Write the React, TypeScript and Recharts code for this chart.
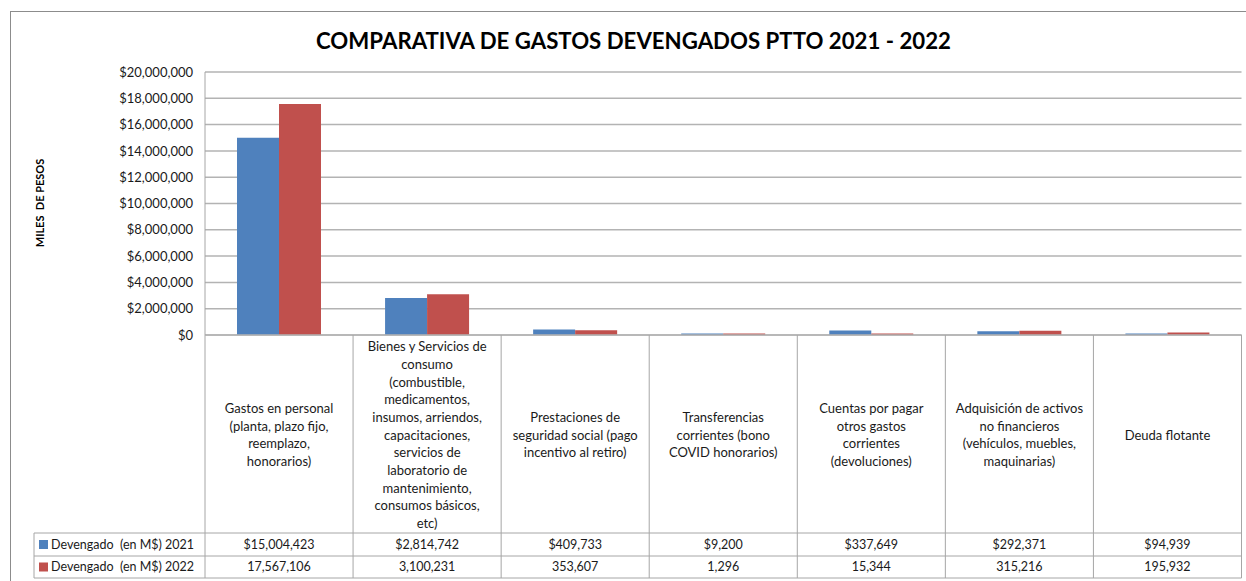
import { BarChart, Bar, XAxis, YAxis, CartesianGrid, Customized } from 'recharts'

const categories = [
  'Gastos en personal\n(planta, plazo fijo,\nreemplazo,\nhonorarios)',
  'Bienes y Servicios de\nconsumo\n(combustible,\nmedicamentos,\ninsumos, arriendos,\ncapacitaciones,\nservicios de\nlaboratorio de\nmantenimiento,\nconsumos básicos,\netc)',
  'Prestaciones de\nseguridad social (pago\nincentivo al retiro)',
  'Transferencias\ncorrientes (bono\nCOVID honorarios)',
  'Cuentas por pagar\notros gastos\ncorrientes\n(devoluciones)',
  'Adquisición de activos\nno financieros\n(vehículos, muebles,\nmaquinarias)',
  'Deuda flotante',
]
const devengado2021 = [15004423, 2814742, 409733, 9200, 337649, 292371, 94939]
const devengado2022 = [17567106, 3100231, 353607, 1296, 15344, 315216, 195932]
const yTicks = [0, 2000000, 4000000, 6000000, 8000000, 10000000, 12000000, 14000000, 16000000, 18000000, 20000000]
const seriesNames = ['Devengado  (en M$) 2021', 'Devengado  (en M$) 2022']
const title = 'COMPARATIVA DE GASTOS DEVENGADOS PTTO 2021 - 2022'
const yLabel = 'MILES  DE PESOS'

const data = categories.map((name, i) => ({ name, y2021: devengado2021[i], y2022: devengado2022[i] }))

const FONT = 'Lato, "Open Sans", sans-serif'
const BLUE = '#4F81BD'
const RED = '#C0504D'
const GRID = '#b3b3b3'
const LINE = '#a6a6a6'
const TEXT = '#1a1a1a'

const PLOT_LEFT = 205
const PLOT_RIGHT = 1241.5
const PLOT_TOP = 72
const PLOT_BOTTOM = 335
const HEADER_BOTTOM = 533
const ROW1_BOTTOM = 556
const ROW2_BOTTOM = 578
const LEGEND_LEFT = 34
const CELL = (PLOT_RIGHT - PLOT_LEFT) / categories.length

const fmt = (v: number) => v.toLocaleString('en-US')

function CategoryTick(props: any) {
  const { x, payload } = props
  const i = payload.index
  const lines = String(payload.value).split('\n')
  const lh = 17.66
  const cy = (PLOT_BOTTOM + HEADER_BOTTOM) / 2 + 1
  const startY = cy - ((lines.length - 1) * lh) / 2
  return (
    <g>
      <line x1={x + CELL / 2} x2={x + CELL / 2} y1={PLOT_BOTTOM} y2={ROW2_BOTTOM} stroke={LINE} strokeWidth={1} />
      <text textAnchor="middle" fontFamily={FONT} fontSize={13} fill={TEXT}>
        {lines.map((l, k) => (
          <tspan key={k} x={x} y={startY + k * lh} dy="0.35em">
            {l}
          </tspan>
        ))}
      </text>
      <text x={x} y={(HEADER_BOTTOM + ROW1_BOTTOM) / 2} dy="0.35em" textAnchor="middle" fontFamily={FONT} fontSize={12.5} fill={TEXT}>
        {'$' + fmt(devengado2021[i])}
      </text>
      <text x={x} y={(ROW1_BOTTOM + ROW2_BOTTOM) / 2} dy="0.35em" textAnchor="middle" fontFamily={FONT} fontSize={12.5} fill={TEXT}>
        {fmt(devengado2022[i])}
      </text>
    </g>
  )
}

function Frame() {
  const rows = [
    { y0: HEADER_BOTTOM, y1: ROW1_BOTTOM, color: BLUE, name: seriesNames[0] },
    { y0: ROW1_BOTTOM, y1: ROW2_BOTTOM, color: RED, name: seriesNames[1] },
  ]
  return (
    <g>
      <rect x={10.5} y={11.5} width={1400} height={800} fill="none" stroke="#8c8c8c" strokeWidth={1} />
      <text x={633.5} y={49} textAnchor="middle" fontFamily={FONT} fontWeight={700} fontSize={22} fill="#000" textLength={635} lengthAdjust="spacingAndGlyphs">
        {title}
      </text>
      <text x={40} y={203} transform="rotate(-90 40 203)" dy="0.35em" textAnchor="middle" fontFamily={FONT} fontWeight={700} fontSize={11} fill="#000" style={{ whiteSpace: 'pre' }}>
        {yLabel}
      </text>
      <line x1={PLOT_LEFT} x2={PLOT_LEFT} y1={PLOT_BOTTOM} y2={ROW2_BOTTOM} stroke={LINE} />
      <line x1={LEGEND_LEFT} x2={LEGEND_LEFT} y1={HEADER_BOTTOM} y2={ROW2_BOTTOM} stroke={LINE} />
      {[HEADER_BOTTOM, ROW1_BOTTOM, ROW2_BOTTOM].map((y) => (
        <line key={y} x1={LEGEND_LEFT} x2={PLOT_RIGHT} y1={y} y2={y} stroke={LINE} />
      ))}
      {rows.map((r) => (
        <g key={r.name}>
          <rect x={39} y={(r.y0 + r.y1) / 2 - 4.5} width={9} height={9} fill={r.color} />
          <text x={51} y={(r.y0 + r.y1) / 2} dy="0.35em" fontFamily={FONT} fontSize={12.5} fill={TEXT} style={{ whiteSpace: 'pre' }}>
            {r.name}
          </text>
        </g>
      ))}
    </g>
  )
}

export default function App() {
  return (
    <div style={{ position: 'absolute', left: 0, top: 0, width: 1246, height: 581, background: '#fff' }}>
      <BarChart
        width={1246}
        height={581}
        data={data}
        margin={{ top: PLOT_TOP, right: 1246 - PLOT_RIGHT, bottom: 0, left: PLOT_LEFT - 170 }}
        barCategoryGap={32}
        barGap={0}
      >
        <CartesianGrid vertical={false} stroke={GRID} strokeWidth={1.5} />
        <XAxis
          dataKey="name"
          height={581 - PLOT_BOTTOM}
          interval={0}
          tick={<CategoryTick />}
          tickLine={false}
          tickSize={0}
          axisLine={{ stroke: GRID, strokeWidth: 1.5 }}
        />
        <YAxis
          width={170}
          domain={[0, 20000000]}
          ticks={yTicks}
          tickFormatter={(v: number) => '$' + fmt(v)}
          tick={{ fontFamily: FONT, fontSize: 13, fill: TEXT }}
          tickLine={false}
          tickSize={0}
          tickMargin={12}
          axisLine={{ stroke: LINE }}
        />
        <Bar dataKey="y2021" name={seriesNames[0]} fill={BLUE} minPointSize={1.5} isAnimationActive={false} />
        <Bar dataKey="y2022" name={seriesNames[1]} fill={RED} minPointSize={1.5} isAnimationActive={false} />
        <Customized component={Frame} />
      </BarChart>
    </div>
  )
}
